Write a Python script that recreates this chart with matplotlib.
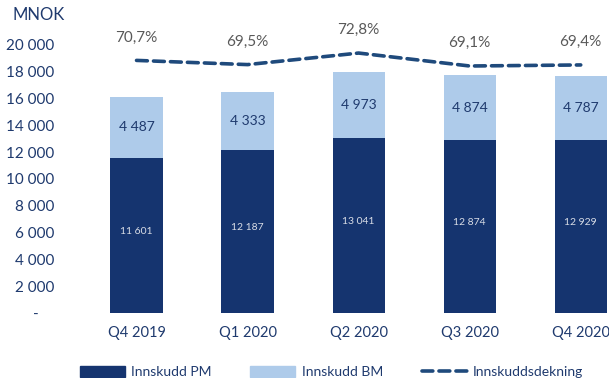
import matplotlib.pyplot as plt
from matplotlib.lines import Line2D
from matplotlib.patches import Patch

plt.rcParams['font.family'] = ['Lato', 'DejaVu Sans']

quarters = ['Q4 2019', 'Q1 2020', 'Q2 2020', 'Q3 2020', 'Q4 2020']
innskudd_pm = [11601, 12187, 13041, 12874, 12929]
innskudd_bm = [4487, 4333, 4973, 4874, 4787]
dekning = [70.7, 69.5, 72.8, 69.1, 69.4]
yticks = [0, 2000, 4000, 6000, 8000, 10000, 12000, 14000, 16000, 18000, 20000]

dark = '#15346F'
light = '#AECBEA'
navy_text = '#1F3A6E'
line_col = '#1F4A7C'

fig = plt.figure(figsize=(6.09, 3.78), dpi=100)
ax = fig.add_axes([81 / 609, (378 - 313) / 378, 1 - 81 / 609, (313 - 18.2) / 378])

x = list(range(len(quarters)))
ax.bar(x, innskudd_pm, width=0.47, color=dark, label='Innskudd PM')
ax.bar(x, innskudd_bm, width=0.47, bottom=innskudd_pm, color=light, label='Innskudd BM')

def fmt(v):
    return f'{v:,}'.replace(',', ' ')

for i in x:
    ax.text(i, innskudd_pm[i] / 2 + 300, fmt(innskudd_pm[i]), ha='center', va='center',
            fontsize=7.5, color='#D9DDE6')
    ax.text(i, innskudd_pm[i] + innskudd_bm[i] / 2, fmt(innskudd_bm[i]), ha='center', va='center',
            fontsize=10, color=navy_text)

ax.set_xlim(-0.5, 4 + 28 / 110)
ax.set_ylim(0, 22000)
ax.set_yticks(yticks)
ax.set_yticklabels(['-    '] + [fmt(v) for v in yticks[1:]])
ax.set_xticks(x)
ax.set_xticklabels(quarters)
ax.tick_params(length=0, labelsize=11, labelcolor=navy_text)
ax.tick_params(axis='x', labelsize=10.5, pad=9)
ax.tick_params(axis='y', pad=19)
for s in ax.spines.values():
    s.set_visible(False)

ax2 = ax.twinx()
ax2.plot(x, dekning, color=line_col, lw=2.6, ls=(0, (3.0, 1.7)), dash_capstyle='round')
for i, v in enumerate(dekning):
    ax2.annotate(f'{v:.1f}%'.replace('.', ','), (i, v), xytext=(0, 16.5), textcoords='offset points',
                 ha='center', va='center', fontsize=11, color='#595959')
ax2.set_ylim(69.1 - (313 - 66) / 3.5, 69.1 + (66 - 18.2) / 3.5)
ax2.set_yticks([])
for s in ax2.spines.values():
    s.set_visible(False)

fig.text(12 / 609, 1 - 15 / 378, 'MNOK', fontsize=12, color=navy_text, va='center', ha='left')

handles = [Patch(color=dark), Patch(color=light),
           Line2D([0], [0], color=line_col, lw=2.6, ls=(0, (3.0, 1.7)), dash_capstyle='round')]
fig.legend(handles, ['Innskudd PM', 'Innskudd BM', 'Innskuddsdekning'], loc='center left',
           bbox_to_anchor=(67 / 609, 6 / 378), ncol=3, frameon=False, fontsize=10,
           handlelength=3.25, handleheight=0.9, handletextpad=0.45, columnspacing=2.8,
           labelcolor=navy_text)

fig.savefig('out.png', dpi=100)
